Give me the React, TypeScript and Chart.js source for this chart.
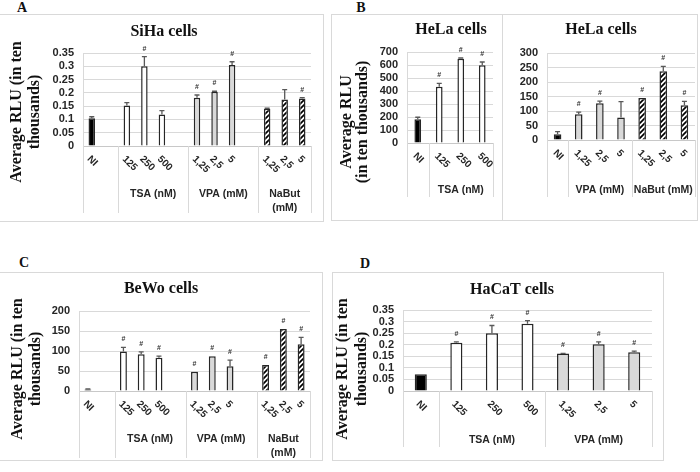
import React, { useEffect, useRef } from "react";
import { Chart, registerables } from "chart.js";

Chart.register(...registerables);

// ================= DATA =================
// Panel A – SiHa cells
const siHaLabels = ["NI", "", "125", "250", "500", "", "1,25", "2,5", "5", "", "1,25", "2,5", "5"];
const siHaKinds = ["NI", "", "TSA", "TSA", "TSA", "", "VPA", "VPA", "VPA", "", "NaBut", "NaBut", "NaBut"];
const siHaValues = [0.104, null, 0.152, 0.3, 0.119, null, 0.182, 0.204, 0.305, null, 0.14, 0.175, 0.179];
const siHaErrors = [0.006, 0, 0.011, 0.036, 0.014, 0, 0.01, 0.002, 0.012, 0, 0.002, 0.037, 0.003];
const siHaHash = [false, false, false, true, false, false, true, true, true, false, false, false, true];
const siHaGroups = [
  { lines: [] as string[], from: 0, to: 2 },
  { lines: ["TSA (nM)"], from: 2, to: 6 },
  { lines: ["VPA (mM)"], from: 6, to: 10 },
  { lines: ["NaBut", "(mM)"], from: 10, to: 13 },
];
const siHaTicks = { max: 0.35, step: 0.05 };

// Panel B (left) – HeLa cells, TSA
const helaTsaLabels = ["NI", "125", "250", "500"];
const helaTsaKinds = ["NI", "TSA", "TSA", "TSA"];
const helaTsaValues = [183, 433, 649, 598];
const helaTsaErrors = [15, 25, 5, 25];
const helaTsaHash = [false, true, true, true];
const helaTsaGroups = [
  { lines: [] as string[], from: 0, to: 1 },
  { lines: ["TSA (nM)"], from: 1, to: 4 },
];
const helaTsaTicks = { max: 700, step: 100 };

// Panel B (right) – HeLa cells, VPA / NaBut
const helaHdacLabels = ["NI", "1,25", "2,5", "5", "1,25", "2,5", "5"];
const helaHdacKinds = ["NI", "VPA", "VPA", "VPA", "NaBut", "NaBut", "NaBut"];
const helaHdacValues = [20, 89, 127, 78, 145, 237, 120];
const helaHdacErrors = [9, 7, 7, 54, 0, 17, 13];
const helaHdacHash = [false, true, true, false, true, true, true];
const helaHdacGroups = [
  { lines: [] as string[], from: 0, to: 1 },
  { lines: ["VPA (mM)"], from: 1, to: 4 },
  { lines: ["NaBut (mM)"], from: 4, to: 7 },
];
const helaHdacTicks = { max: 300, step: 50 };

// Panel C – BeWo cells
const beWoLabels = ["NI", "", "125", "250", "500", "", "1,25", "2,5", "5", "", "1,25", "2,5", "5"];
const beWoKinds = ["NI", "", "TSA", "TSA", "TSA", "", "VPA", "VPA", "VPA", "", "NaBut", "NaBut", "NaBut"];
const beWoValues = [4, null, 99, 92, 83, null, 48, 87, 62, null, 65, 155, 117];
const beWoErrors = [1, 0, 10, 6, 4, 0, 0, 0, 15, 0, 0, 0, 17];
const beWoHash = [false, false, true, true, true, false, true, true, true, false, true, true, true];
const beWoGroups = [
  { lines: [] as string[], from: 0, to: 2 },
  { lines: ["TSA (nM)"], from: 2, to: 6 },
  { lines: ["VPA (mM)"], from: 6, to: 10 },
  { lines: ["NaBut", "(mM)"], from: 10, to: 13 },
];
const beWoTicks = { max: 200, step: 50 };

// Panel D – HaCaT cells
const haCaTLabels = ["NI", "125", "250", "500", "1,25", "2,5", "5"];
const haCaTKinds = ["NI", "TSA", "TSA", "TSA", "VPA", "VPA", "VPA"];
const haCaTValues = [0.072, 0.208, 0.249, 0.291, 0.162, 0.202, 0.167];
const haCaTErrors = [0, 0.004, 0.034, 0.013, 0.001, 0.01, 0.005];
const haCaTHash = [false, true, true, true, true, true, true];
const haCaTGroups = [
  { lines: [] as string[], from: 0, to: 1 },
  { lines: ["TSA (nM)"], from: 1, to: 4 },
  { lines: ["VPA (mM)"], from: 4, to: 7 },
];
const haCaTTicks = { max: 0.35, step: 0.05 };

// ================= STYLE / LAYOUT =================
const SERIF = '"Liberation Serif", "Times New Roman", serif';
const SANS = '"Liberation Sans", Arial, sans-serif';
const TEXT = "#262626";
const GRID = "#d9d9d9";

type Spec = {
  labels: string[];
  kinds: string[];
  values: (number | null)[];
  errors: number[];
  hash: boolean[];
  groups: { lines: string[]; from: number; to: number }[];
  ticks: { max: number; step: number };
  title: string;
  yTitle: string[];
  canvas: [number, number, number, number];
  area: [number, number, number, number];
  sepBottom: number;
  groupY: number;
  titleXY: [number, number];
  yTitleX: number[];
  yTitleY: number;
  barPct: number;
};

const specs: Spec[] = [
  {
    labels: siHaLabels, kinds: siHaKinds, values: siHaValues, errors: siHaErrors, hash: siHaHash,
    groups: siHaGroups, ticks: siHaTicks, title: "SiHa cells",
    yTitle: ["Average RLU (in ten", "thousands)"],
    canvas: [0, 14, 323, 207], area: [83, 53, 311, 146], sepBottom: 213, groupY: 194,
    titleXY: [164, 32], yTitleX: [17, 35], yTitleY: 112, barPct: 0.37,
  },
  {
    labels: helaTsaLabels, kinds: helaTsaKinds, values: helaTsaValues, errors: helaTsaErrors, hash: helaTsaHash,
    groups: helaTsaGroups, ticks: helaTsaTicks, title: "HeLa cells",
    yTitle: ["Average RLU", "(in ten thousands)"],
    canvas: [332, 15, 170, 205], area: [407, 52, 493, 143], sepBottom: 197, groupY: 190,
    titleXY: [451, 30], yTitleX: [347, 363], yTitleY: 122, barPct: 0.31,
  },
  {
    labels: helaHdacLabels, kinds: helaHdacKinds, values: helaHdacValues, errors: helaHdacErrors, hash: helaHdacHash,
    groups: helaHdacGroups, ticks: helaHdacTicks, title: "HeLa cells",
    yTitle: [],
    canvas: [503, 15, 194, 205], area: [547, 53, 695, 140], sepBottom: 197, groupY: 190,
    titleXY: [601, 30], yTitleX: [], yTitleY: 0, barPct: 0.36,
  },
  {
    labels: beWoLabels, kinds: beWoKinds, values: beWoValues, errors: beWoErrors, hash: beWoHash,
    groups: beWoGroups, ticks: beWoTicks, title: "BeWo cells",
    yTitle: ["Average RLU (in ten", "thousands)"],
    canvas: [0, 272, 322, 188], area: [79, 311, 310, 391], sepBottom: 458, groupY: 439,
    titleXY: [161, 289], yTitleX: [18, 36], yTitleY: 369, barPct: 0.39,
  },
  {
    labels: haCaTLabels, kinds: haCaTKinds, values: haCaTValues, errors: haCaTErrors, hash: haCaTHash,
    groups: haCaTGroups, ticks: haCaTTicks, title: "HaCaT cells",
    yTitle: ["Average RLU (in ten", "thousands)"],
    canvas: [333, 273, 330, 187], area: [403, 310, 652, 391], sepBottom: 447, groupY: 440,
    titleXY: [512, 290], yTitleX: [343, 362], yTitleY: 369, barPct: 0.34,
  },
];

function makeHatch(): CanvasPattern | string {
  const c = document.createElement("canvas");
  const s = 5;
  c.width = s;
  c.height = s;
  const g = c.getContext("2d");
  if (!g) return "#888";
  g.fillStyle = "#fff";
  g.fillRect(0, 0, s, s);
  g.strokeStyle = "#000";
  g.lineWidth = 1.7;
  g.beginPath();
  g.moveTo(0, s);
  g.lineTo(s, 0);
  g.moveTo(-1, 1);
  g.lineTo(1, -1);
  g.moveTo(s - 1, s + 1);
  g.lineTo(s + 1, s - 1);
  g.stroke();
  return g.createPattern(c, "repeat") || "#888";
}

function fillFor(kind: string, hatch: CanvasPattern | string) {
  if (kind === "NI") return "#000000";
  if (kind === "TSA") return "#ffffff";
  if (kind === "VPA") return "#d9d9d9";
  if (kind === "NaBut") return hatch;
  return "rgba(0,0,0,0)";
}

function fmt(v: number) {
  return String(Number(v.toFixed(2)));
}

function Panel({ spec }: { spec: Spec }) {
  const ref = useRef<HTMLCanvasElement>(null);
  useEffect(() => {
    const canvas = ref.current;
    if (!canvas) return;
    const [ox, oy, cw, ch] = spec.canvas;
    const [l, t, r, b] = spec.area;
    const hatch = makeHatch();
    const n = spec.labels.length;

    const decor = {
      id: "decor",
      afterDatasetsDraw(chart: any) {
        const ctx = chart.ctx;
        const meta = chart.getDatasetMeta(0);
        const ys = chart.scales.y;
        ctx.save();
        spec.values.forEach((v, i) => {
          if (v == null) return;
          const el = meta.data[i];
          const x = el.x;
          const e = spec.errors[i] || 0;
          const yv = ys.getPixelForValue(v);
          const yt = ys.getPixelForValue(v + e);
          if (e > 0) {
            ctx.strokeStyle = "#595959";
            ctx.lineWidth = 1.3;
            ctx.beginPath();
            ctx.moveTo(x, yv);
            ctx.lineTo(x, yt);
            ctx.moveTo(x - 2.5, yt);
            ctx.lineTo(x + 2.5, yt);
            ctx.stroke();
          }
          if (spec.hash[i]) {
            ctx.fillStyle = "#333";
            ctx.font = `bold 7px ${SANS}`;
            ctx.textAlign = "center";
            ctx.textBaseline = "middle";
            ctx.fillText("#", x, yt - 8);
          }
        });
        ctx.restore();
      },
      afterDraw(chart: any) {
        const ctx = chart.ctx;
        const area = chart.chartArea;
        const xs = chart.scales.x;
        const w = (area.right - area.left) / n;
        const bx = (k: number) => area.left + k * w;
        ctx.save();
        // separators below axis
        ctx.strokeStyle = GRID;
        ctx.lineWidth = 1;
        const bounds = new Set<number>();
        spec.groups.forEach((g) => {
          bounds.add(g.from);
          bounds.add(g.to);
        });
        bounds.forEach((k) => {
          const x = Math.round(bx(k)) + 0.5;
          ctx.beginPath();
          ctx.moveTo(x, area.bottom);
          ctx.lineTo(x, spec.sepBottom - oy);
          ctx.stroke();
        });
        // category labels (rotated)
        ctx.fillStyle = TEXT;
        ctx.font = `bold 10px ${SANS}`;
        ctx.textAlign = "left";
        ctx.textBaseline = "middle";
        spec.labels.forEach((lab, i) => {
          if (!lab) return;
          const x = xs.getPixelForValue(i);
          ctx.save();
          ctx.translate(x - 3, area.bottom + 11.5);
          ctx.rotate(Math.PI / 4);
          ctx.fillText(lab, 0, 0);
          ctx.restore();
        });
        // group labels
        ctx.font = `bold 10.5px ${SANS}`;
        ctx.textAlign = "center";
        spec.groups.forEach((g) => {
          const cx = (bx(g.from) + bx(g.to)) / 2;
          g.lines.forEach((line, k) => {
            ctx.fillText(line, cx, spec.groupY - oy + k * 14);
          });
        });
        // title
        ctx.fillStyle = "#111";
        ctx.font = `bold 16px ${SERIF}`;
        ctx.fillText(spec.title, spec.titleXY[0] - ox, spec.titleXY[1] - oy);
        // y title
        ctx.font = `bold 16px ${SERIF}`;
        spec.yTitle.forEach((line, k) => {
          ctx.save();
          ctx.translate(spec.yTitleX[k] - ox, spec.yTitleY - oy);
          ctx.rotate(-Math.PI / 2);
          ctx.fillText(line, 0, 0);
          ctx.restore();
        });
        ctx.restore();
      },
    };

    const chart = new Chart(canvas, {
      type: "bar",
      data: {
        labels: spec.labels,
        datasets: [
          {
            data: spec.values as any,
            backgroundColor: spec.kinds.map((k) => fillFor(k, hatch)) as any,
            borderColor: "#262626",
            borderWidth: 1.5,
            categoryPercentage: 1,
            barPercentage: spec.barPct,
          },
        ],
      },
      options: {
        responsive: false,
        animation: false,
        events: [],
        layout: {
          padding: { left: 0, top: t - oy, right: ox + cw - r, bottom: 0 },
        },
        plugins: { legend: { display: false }, tooltip: { enabled: false }, title: { display: false } },
        scales: {
          x: {
            grid: { display: false },
            border: { display: true, color: "#c8c8c8", width: 1 },
            ticks: { display: false },
            afterFit: (s: any) => {
              s.height = oy + ch - b;
            },
          },
          y: {
            min: 0,
            max: spec.ticks.max,
            grid: { color: GRID, drawTicks: false },
            border: { display: true, color: GRID },
            ticks: {
              stepSize: spec.ticks.step,
              autoSkip: false,
              padding: 9,
              color: TEXT,
              font: { family: SANS, weight: "bold", size: 11 },
              callback: (v: any) => fmt(Number(v)),
            },
            afterFit: (s: any) => {
              s.width = l - ox;
            },
          },
        },
      },
      plugins: [decor],
    });
    return () => chart.destroy();
  }, [spec]);
  const [ox, oy, cw, ch] = spec.canvas;
  return (
    <canvas
      ref={ref}
      width={cw}
      height={ch}
      style={{ position: "absolute", left: ox, top: oy, width: cw, height: ch }}
    />
  );
}

const boxes = [
  { left: -1, top: 14, width: 325, height: 208 },
  { left: 331, top: 14, width: 367, height: 207 },
  { left: -1, top: 272, width: 324, height: 189 },
  { left: 332, top: 272, width: 332, height: 189 },
];

const letters = [
  { t: "A", x: 22, y: 8 },
  { t: "B", x: 361, y: 8 },
  { t: "C", x: 24, y: 263 },
  { t: "D", x: 365, y: 264 },
];

export default function App() {
  return (
    <div
      style={{
        position: "absolute",
        left: 0,
        top: 0,
        width: 700,
        height: 472,
        background: "#fff",
        overflow: "hidden",
      }}
    >
      {boxes.map((bx, i) => (
        <div
          key={"b" + i}
          style={{
            position: "absolute",
            left: bx.left,
            top: bx.top,
            width: bx.width,
            height: bx.height,
            boxSizing: "border-box",
            border: `1px solid ${GRID}`,
          }}
        />
      ))}
      <div style={{ position: "absolute", left: 502, top: 14, width: 1, height: 207, background: GRID }} />
      {letters.map((lt) => (
        <div
          key={lt.t}
          style={{
            position: "absolute",
            left: lt.x,
            top: lt.y,
            transform: "translate(-50%, -50%)",
            font: `bold 14px ${SERIF}`,
            lineHeight: 1,
            color: "#111",
          }}
        >
          {lt.t}
        </div>
      ))}
      {specs.map((s, i) => (
        <Panel key={i} spec={s} />
      ))}
    </div>
  );
}
